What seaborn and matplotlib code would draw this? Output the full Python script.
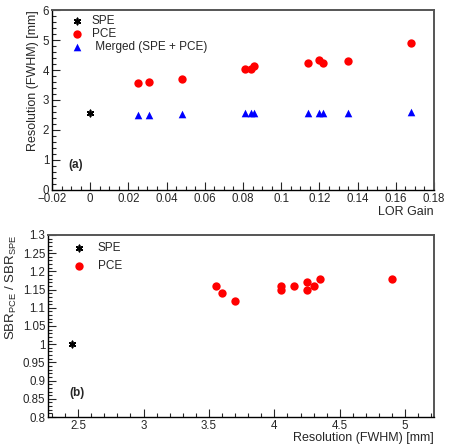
import numpy as np
import pandas as pd
import matplotlib
matplotlib.use("Agg")
import matplotlib.pyplot as plt
from matplotlib.ticker import MultipleLocator, FuncFormatter
import seaborn as sns

# ---- data ----
spe_gain = [0.0]
spe_res = [2.55]
pce_gain = [0.025, 0.031, 0.048, 0.081, 0.084, 0.086, 0.114, 0.120, 0.122, 0.135, 0.168]
pce_res = [3.55, 3.60, 3.70, 4.05, 4.05, 4.15, 4.25, 4.35, 4.25, 4.30, 4.90]
merged_res = [2.50, 2.50, 2.53, 2.55, 2.55, 2.55, 2.57, 2.55, 2.55, 2.58, 2.60]

spe_sbr_res = [2.45]
spe_sbr = [1.00]
pce_sbr_res = [3.55, 3.60, 3.70, 4.05, 4.05, 4.15, 4.25, 4.25, 4.30, 4.35, 4.90]
pce_sbr = [1.16, 1.14, 1.12, 1.16, 1.15, 1.16, 1.17, 1.15, 1.16, 1.18, 1.18]

sns.set_style("ticks")
plt.rcParams['font.family'] = ['Liberation Sans', 'DejaVu Sans']
plt.rcParams['mathtext.fontset'] = 'custom'
plt.rcParams['mathtext.rm'] = 'Liberation Sans'

fig = plt.figure(figsize=(4.49, 4.47), dpi=100)
ax1 = fig.add_axes([0.1158, 0.575, 0.8508, 0.4026])
ax2 = fig.add_axes([0.107, 0.0671, 0.8596, 0.4072])

star = dict(marker=(6, 2, 0), color='black', s=20, linewidth=1.2, edgecolor='black')

df_spe = pd.DataFrame({'x': spe_gain, 'y': spe_res})
df_pce = pd.DataFrame({'x': pce_gain, 'y': pce_res})
df_mer = pd.DataFrame({'x': pce_gain, 'y': merged_res})
sns.scatterplot(data=df_spe, x='x', y='y', ax=ax1, label='SPE', **star)
sns.scatterplot(data=df_pce, x='x', y='y', ax=ax1, label='PCE', marker='o', color='#ff0000', s=36, linewidth=0)
sns.scatterplot(data=df_mer, x='x', y='y', ax=ax1, label=' Merged (SPE + PCE)', marker='^', color='#0000ff', s=30, linewidth=0)

df_spe2 = pd.DataFrame({'x': spe_sbr_res, 'y': spe_sbr})
df_pce2 = pd.DataFrame({'x': pce_sbr_res, 'y': pce_sbr})
sns.scatterplot(data=df_spe2, x='x', y='y', ax=ax2, label='SPE', **star)
sns.scatterplot(data=df_pce2, x='x', y='y', ax=ax2, label='PCE', marker='o', color='#ff0000', s=36, linewidth=0)

def fmt(v, p):
    s = ('%.3f' % v).rstrip('0').rstrip('.')
    if s in ('-0',):
        s = '0'
    return s.replace('-', '\u2212')

for ax in (ax1, ax2):
    ax.tick_params(which='both', direction='in', top=False, right=False, labelsize=8.3, pad=2)
    ax.tick_params(which='major', length=6, width=0.8)
    ax.tick_params(which='minor', length=3, width=0.8)
    for s in ('left', 'bottom'):
        ax.spines[s].set_color('black')
        ax.spines[s].set_linewidth(1.0)
    for s in ('top', 'right'):
        ax.spines[s].set_color('#555555')
        ax.spines[s].set_linewidth(1.4)
    ax.xaxis.set_major_formatter(FuncFormatter(fmt))
    ax.yaxis.set_major_formatter(FuncFormatter(fmt))

ax1.set_xlim(-0.02, 0.18)
ax1.set_ylim(0, 6)
ax1.xaxis.set_major_locator(MultipleLocator(0.02))
ax1.xaxis.set_minor_locator(MultipleLocator(0.005))
ax1.yaxis.set_major_locator(MultipleLocator(1))
ax1.yaxis.set_minor_locator(MultipleLocator(0.2))
ax1.set_xlabel('LOR Gain', loc='right', fontsize=9, labelpad=1)
ax1.set_ylabel('Resolution (FWHM) [mm]', loc='top', fontsize=9, labelpad=3)
ax1.text(0.043, 0.12, '(a)', transform=ax1.transAxes, fontsize=8.5, fontweight='bold')
ax1.legend(loc='upper left', frameon=False, fontsize=8.5, handletextpad=0.5,
           borderaxespad=0.0, labelspacing=0.1, handlelength=1.5, bbox_to_anchor=(0.03, 1.0))

ax2.set_xlim(2.27, 5.22)
ax2.set_ylim(0.8, 1.3)
ax2.xaxis.set_major_locator(MultipleLocator(0.5))
ax2.xaxis.set_minor_locator(MultipleLocator(0.1))
ax2.yaxis.set_major_locator(MultipleLocator(0.05))
ax2.yaxis.set_minor_locator(MultipleLocator(0.01))
ax2.set_xlabel('Resolution (FWHM) [mm]', loc='right', fontsize=9, labelpad=0)
ax2.set_ylabel(r'SBR$_{\mathrm{PCE}}$ / SBR$_{\mathrm{SPE}}$', loc='top', fontsize=9.5, labelpad=3)
ax2.text(0.055, 0.115, '(b)', transform=ax2.transAxes, fontsize=8.5, fontweight='bold')
ax2.legend(loc='upper left', frameon=False, fontsize=8.5, handletextpad=0.8,
           borderaxespad=0.2, labelspacing=0.5, handlelength=1.5, bbox_to_anchor=(0.04, 1.0))

fig.savefig('out.png', dpi=100)
